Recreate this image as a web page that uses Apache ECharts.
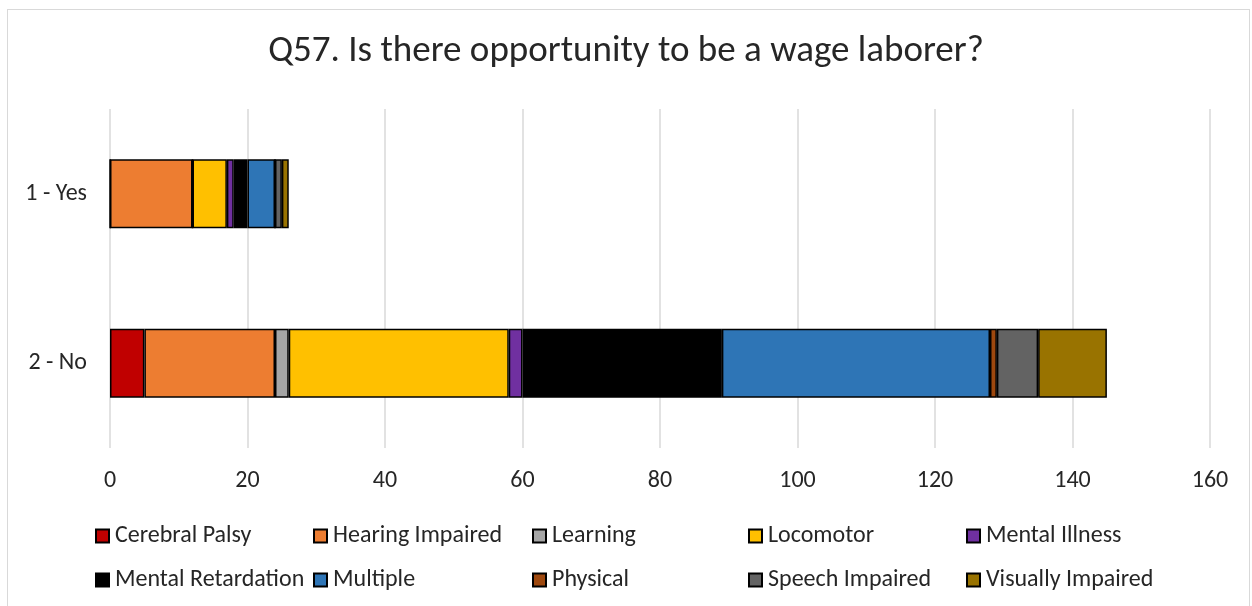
<!DOCTYPE html>
<html><head><meta charset="utf-8">
<script src="https://cdn.jsdelivr.net/npm/echarts@6/dist/echarts.min.js"></script>
<style>
html,body{margin:0;padding:0;background:#fff;}
#frame{position:absolute;left:7px;top:9px;width:1243px;height:620px;border:1px solid #d9d9d9;box-sizing:border-box;}
#c{position:absolute;left:0;top:0;width:1252px;height:606px;}
</style></head>
<body><div id="frame"></div><div id="c"></div>
<script>
const categories = ['1 - Yes', '2 - No'];
const seriesNames = ['Cerebral Palsy','Hearing Impaired','Learning','Locomotor','Mental Illness','Mental Retardation','Multiple','Physical','Speech Impaired','Visually Impaired'];
const cerebralPalsy = [0, 5];
const hearingImpaired = [12, 19];
const learning = [0, 2];
const locomotor = [5, 32];
const mentalIllness = [1, 2];
const mentalRetardation = [2, 29];
const multiple = [4, 39];
const physical = [0, 1];
const speechImpaired = [1, 6];
const visuallyImpaired = [1, 10];
const xTicks = [0, 20, 40, 60, 80, 100, 120, 140, 160];

const values = [cerebralPalsy, hearingImpaired, learning, locomotor, mentalIllness, mentalRetardation, multiple, physical, speechImpaired, visuallyImpaired];
const colors = ['#C00000','#ED7D31','#A5A5A5','#FFC000','#7030A0','#000000','#2E75B6','#9E480E','#636363','#997300'];
const font = 'Calibri, Carlito, Lato, sans-serif';

const legendPos = [[95,524],[313,524],[532,524],[748,524],[966,524],[95,568],[313,568],[532,568],[748,568],[966,568]];
const legends = seriesNames.map((n,i)=>({
  data:[n], left:legendPos[i][0], top:legendPos[i][1], orient:'horizontal',
  itemWidth:13, itemHeight:13, itemGap:0, padding:0,
  textStyle:{fontFamily:font, fontSize:24, color:'#262626', padding:[0,0,0,1]},
  icon:'rect', selectedMode:false
}));

const chart = echarts.init(document.getElementById('c'), null, {renderer:'canvas'});
chart.setOption({
  animation:false,
  title:{text:'Q57. Is there opportunity to be a wage laborer?', left:'center', top:28,
    textStyle:{fontFamily:font, fontSize:37, fontWeight:'normal', color:'#262626'}},
  legend: legends,
  grid:{left:110, right:42, top:109, bottom:158, containLabel:false},
  xAxis:{type:'value', min:0, max:160, interval:20,
    axisLine:{show:false}, axisTick:{show:false},
    splitLine:{lineStyle:{color:'#d9d9d9', width:1.5}},
    axisLabel:{fontFamily:font, fontSize:24, color:'#262626', margin:21,
      formatter:v=>xTicks.includes(v)?String(v):''}},
  yAxis:{type:'category', data:categories, inverse:true,
    axisLine:{show:false}, axisTick:{show:false},
    axisLabel:{fontFamily:font, fontSize:24, color:'#262626', margin:23}},
  series: seriesNames.map((n,i)=>({
    name:n, type:'bar', stack:'total', data:values[i], barWidth:69,
    itemStyle:{color:colors[i], borderColor:'#000', borderWidth:1.5},
    emphasis:{disabled:true}
  }))
});
</script></body></html>
